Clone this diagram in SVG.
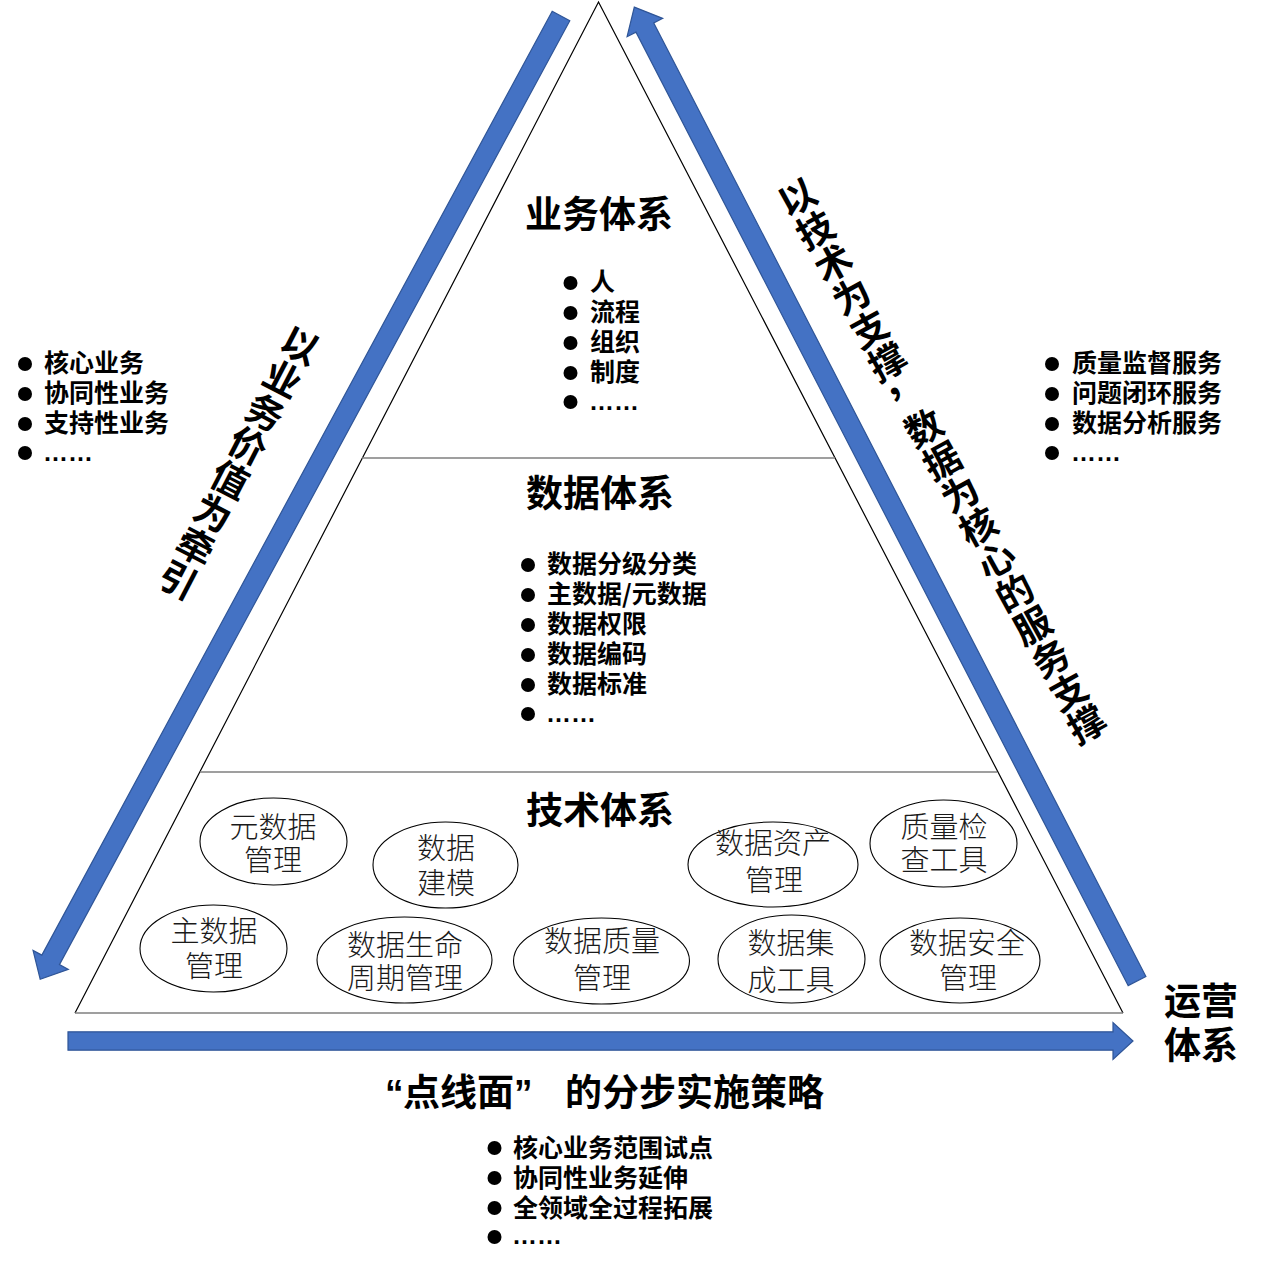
<svg xmlns="http://www.w3.org/2000/svg" width="1262" height="1266" viewBox="0 0 1262 1266">
<style>
.h{font-family:"Noto Sans CJK SC","Liberation Sans",sans-serif;font-weight:700;font-size:37px;fill:#000}
.b{font-family:"Noto Sans CJK SC","Liberation Sans",sans-serif;font-weight:700;font-size:25px;fill:#000}
.dots{font-family:"Liberation Sans","Noto Sans CJK SC",sans-serif;font-weight:700;font-size:25px;fill:#000}
.e{font-family:"Noto Sans CJK SC","Liberation Serif",serif;font-weight:300;font-size:29px;fill:#1a1a1a;text-anchor:middle}
.r{font-family:"Noto Sans CJK SC","Liberation Sans",sans-serif;font-weight:700;font-size:37px;fill:#000;text-anchor:middle}
.ell{fill:#fff;stroke:#000;stroke-width:1.1}
.arrow{fill:#4472C4;stroke:#2F5597;stroke-width:1.2}
.side{fill:none;stroke:#000;stroke-width:1.2}
.div{stroke:#7f7f7f;stroke-width:1.4}
</style>

<g id="triangle">
<polyline class="side" points="75,1013 598.5,2 1123,1013"/>
<line class="div" x1="75" y1="1013" x2="1123" y2="1013" stroke-width="2"/>
<line class="div" x1="362" y1="458" x2="835" y2="458"/>
<line class="div" x1="200" y1="772" x2="997" y2="772"/>
</g>

<g id="connectors">
<polygon class="arrow" transform="translate(561,16) rotate(118.4)" points="0,-10 1073,-10 1073,-20 1095,0 1073,20 1073,10 0,10"/>
<polygon class="arrow" transform="translate(1137,981) rotate(-117.3)" points="0,-10 1073,-10 1073,-20 1096,0 1073,20 1073,10 0,10"/>
<polygon class="arrow" transform="translate(68,1041)" points="0,-9.2 1045,-9.2 1045,-18.5 1065,0 1045,18.5 1045,9.2 0,9.2"/>
</g>

<g id="business">
<text class="h" x="599" y="228" text-anchor="middle">业务体系</text>
<circle cx="570.5" cy="283" r="7"/><text class="b" x="590" y="290.5">人</text>
<circle cx="570.5" cy="313" r="7"/><text class="b" x="590" y="320.5">流程</text>
<circle cx="570.5" cy="343" r="7"/><text class="b" x="590" y="350.5">组织</text>
<circle cx="570.5" cy="373" r="7"/><text class="b" x="590" y="380.5">制度</text>
<circle cx="570.5" cy="402" r="7"/><text class="dots" x="589" y="410">……</text>
</g>

<g id="data">
<text class="h" x="600" y="507" text-anchor="middle">数据体系</text>
<circle cx="528" cy="565" r="7"/><text class="b" x="547" y="572.5">数据分级分类</text>
<circle cx="528" cy="595" r="7"/><text class="b" x="547" y="602.5">主数据/元数据</text>
<circle cx="528" cy="625" r="7"/><text class="b" x="547" y="632.5">数据权限</text>
<circle cx="528" cy="655" r="7"/><text class="b" x="547" y="662.5">数据编码</text>
<circle cx="528" cy="685" r="7"/><text class="b" x="547" y="692.5">数据标准</text>
<circle cx="528" cy="714" r="7"/><text class="dots" x="546" y="722">……</text>
</g>

<g id="tech">
<text class="h" x="600" y="824" text-anchor="middle">技术体系</text>
</g>

<g id="n-meta"><ellipse class="ell" cx="273.5" cy="841.5" rx="73.5" ry="43.5"/><text class="e"><tspan x="273" y="838">元数据</tspan><tspan x="273" y="871">管理</tspan></text></g>
<g id="n-model"><ellipse class="ell" cx="445.5" cy="865" rx="72.5" ry="43"/><text class="e"><tspan x="446" y="859">数据</tspan><tspan x="446" y="894">建模</tspan></text></g>
<g id="n-master"><ellipse class="ell" cx="213.5" cy="948.5" rx="73.5" ry="43.5"/><text class="e"><tspan x="214" y="942">主数据</tspan><tspan x="214" y="977">管理</tspan></text></g>
<g id="n-life"><ellipse class="ell" cx="404.5" cy="960" rx="87.5" ry="43"/><text class="e"><tspan x="405" y="956">数据生命</tspan><tspan x="405" y="989">周期管理</tspan></text></g>
<g id="n-quality"><ellipse class="ell" cx="601.5" cy="961" rx="88" ry="43"/><text class="e"><tspan x="602" y="952">数据质量</tspan><tspan x="602" y="989">管理</tspan></text></g>
<g id="n-asset"><ellipse class="ell" cx="773" cy="864.5" rx="85" ry="42.5"/><text class="e"><tspan x="773" y="854">数据资产</tspan><tspan x="774" y="891">管理</tspan></text></g>
<g id="n-check"><ellipse class="ell" cx="943.5" cy="843.5" rx="73.5" ry="43.5"/><text class="e"><tspan x="944" y="838">质量检</tspan><tspan x="944" y="871">查工具</tspan></text></g>
<g id="n-integ"><ellipse class="ell" cx="791.5" cy="959" rx="73.5" ry="44"/><text class="e"><tspan x="791" y="954">数据集</tspan><tspan x="791" y="991">成工具</tspan></text></g>
<g id="n-security"><ellipse class="ell" cx="960" cy="960.5" rx="80" ry="42.5"/><text class="e"><tspan x="967" y="954">数据安全</tspan><tspan x="968" y="989">管理</tspan></text></g>

<g id="left-list">
<circle cx="25" cy="364" r="7"/><text class="b" x="44" y="371.5">核心业务</text>
<circle cx="25" cy="394" r="7"/><text class="b" x="44" y="401.5">协同性业务</text>
<circle cx="25" cy="424" r="7"/><text class="b" x="44" y="431.5">支持性业务</text>
<circle cx="25" cy="453" r="7"/><text class="dots" x="43" y="461">……</text>
</g>

<g id="right-list">
<circle cx="1052" cy="364" r="7"/><text class="b" x="1072" y="371.5">质量监督服务</text>
<circle cx="1052" cy="394" r="7"/><text class="b" x="1072" y="401.5">问题闭环服务</text>
<circle cx="1052" cy="424" r="7"/><text class="b" x="1072" y="431.5">数据分析服务</text>
<circle cx="1052" cy="453" r="7"/><text class="dots" x="1071" y="461">……</text>
</g>

<g id="left-label" transform="translate(300,345) rotate(27.4)">
<text class="r" x="0" y="14">以</text>
<text class="r" x="0" y="51.8">业</text>
<text class="r" x="0" y="89.6">务</text>
<text class="r" x="0" y="127.4">价</text>
<text class="r" x="0" y="165.2">值</text>
<text class="r" x="0" y="203">为</text>
<text class="r" x="0" y="240.8">牵</text>
<text class="r" x="0" y="278.6">引</text>
</g>

<g id="right-label" transform="translate(797,197) rotate(-28.8)">
<text class="r" x="0" y="14">以</text>
<text class="r" x="0" y="51.6">技</text>
<text class="r" x="0" y="89.2">术</text>
<text class="r" x="0" y="126.8">为</text>
<text class="r" x="0" y="164.4">支</text>
<text class="r" x="0" y="202">撑</text>
<text class="r" x="0" y="222.6" font-size="30">，</text>
<text class="r" x="0" y="277.2">数</text>
<text class="r" x="0" y="314.8">据</text>
<text class="r" x="0" y="352.4">为</text>
<text class="r" x="0" y="390">核</text>
<text class="r" x="0" y="427.6">心</text>
<text class="r" x="0" y="465.2">的</text>
<text class="r" x="0" y="502.8">服</text>
<text class="r" x="0" y="540.4">务</text>
<text class="r" x="0" y="578">支</text>
<text class="r" x="0" y="615.6">撑</text>
</g>

<g id="ops">
<text class="h" x="1164" y="1015">运营</text>
<text class="h" x="1164" y="1059">体系</text>
</g>

<g id="strategy">
<text class="h" y="1106"><tspan x="385" font-family="Liberation Sans, sans-serif">“</tspan><tspan x="403">点线面</tspan><tspan x="514" font-family="Liberation Sans, sans-serif">”</tspan><tspan x="565">的分步实施策略</tspan></text>
<circle cx="494.5" cy="1148" r="7"/><text class="b" x="513" y="1156.5">核心业务范围试点</text>
<circle cx="494.5" cy="1178" r="7"/><text class="b" x="513" y="1186.5">协同性业务延伸</text>
<circle cx="494.5" cy="1208" r="7"/><text class="b" x="513" y="1216.5">全领域全过程拓展</text>
<circle cx="494.5" cy="1237" r="7"/><text class="dots" x="512" y="1244">……</text>
</g>
</svg>
